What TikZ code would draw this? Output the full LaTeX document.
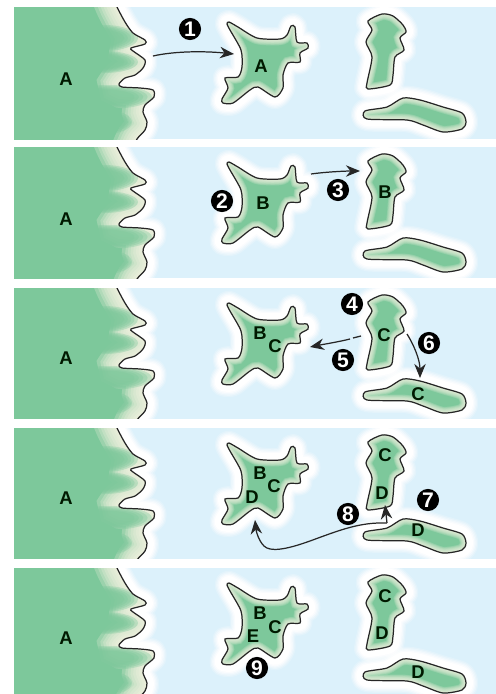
\documentclass[tikz,border=0pt]{standalone}
\usepackage{fontspec}
\setmainfont{Liberation Sans}
\usetikzlibrary{arrows.meta}
\definecolor{sea}{HTML}{DCF1FB}
\definecolor{land}{HTML}{7DC89B}
\definecolor{cream}{HTML}{F6F3E2}
\newcommand\coastline{plot[smooth,tension=.45] coordinates{(112,-5)(117,7)(125,22)(133,33)(145,40)(145,44)(131,48)(133,51)(145,60)(143,68)(135,75)(125,78)(119,84)(122,87)(140,88)(153,90)(154,97)(145,105)(143,112)(147,122)(145,130)(137,139)(132,150)}}
\newcommand\bigisle{plot[smooth cycle,tension=.45] coordinates{(229,22)(238,27)(257,38)(280,39)(287,35)(291,26)(295,27)(297,42)(307,43)(308,48)(300,53)(300,62)(288,63)(283,75)(283,88)(275,97)(258,87)(250,90)(233,103)(223,103)(222,99)(228,88)(225,78)(238,77)(242,67)(241,50)(230,30)(227,24)}}
\newcommand\tallisle{plot[smooth cycle,tension=.45] coordinates{(368,21)(382,14)(393,16)(403,25)(406,32)(400,38)(404,50)(395,57)(393,75)(390,85)(368,89)(367,83)(372,57)(366,42)(372,30)}}
\newcommand\longisle{plot[smooth cycle,tension=.45] coordinates{(365,111)(387,107)(403,98)(420,100)(443,107)(462,113)(466,122)(462,129)(443,132)(423,125)(407,120)(367,119)}}
\newcommand\glow[1]{%
  \foreach \w/\o in {14/.2,12.5/.3,11/.4,9.5/.6,8/1}{%
    \draw[white,opacity=\o,line width=\w pt,line join=round] #1;}}
\newcommand\isle[1]{%
  \fill[land] #1;
  \begin{scope}
    \clip #1;
    \foreach \w in {7,6,5,4,3,2}{%
      \draw[cream,opacity=.2,line width=\w pt] #1;}
  \end{scope}
  \draw[black!85,line width=.7pt] #1;}
\newcommand\panel[2]{%
\begin{scope}[shift={(0,#1)}]
  \begin{scope}
    \clip (14,7) rectangle (496,#2);
    \fill[sea] (14,7) rectangle (496,#2);
    \glow{\coastline}\glow{\bigisle}\glow{\tallisle}\glow{\longisle}
    \fill[land] \coastline -- (14,150) -- (14,-5) -- cycle;
    \begin{scope}
      \clip \coastline -- (14,150) -- (14,-5) -- cycle;
      \foreach \w in {24,20,17,14,11,8,5,3}{%
        \draw[cream,opacity=.25,line width=\w pt] \coastline;}
      \foreach \s in {1,.9,.8,.7,.6}{%
        \fill[land,opacity=.35] (104,38) ellipse ({34*\s} and {13*\s});
        \fill[land,opacity=.35] (104,62) ellipse ({34*\s} and {11*\s});
        \fill[land,opacity=.35] (108,97) ellipse ({44*\s} and {12*\s});
        \fill[land,opacity=.35] (100,122) ellipse ({32*\s} and {13*\s});}
    \end{scope}
    \draw[black!85,line width=.7pt] \coastline;
    \isle{\bigisle}\isle{\tallisle}\isle{\longisle}
  \end{scope}
\end{scope}}
\tikzset{
  lbl/.style={font=\bfseries\fontsize{10.5}{11}\selectfont,text=black!90!green,inner sep=0pt},
  num/.style={circle,fill=black,text=white,font=\bfseries\fontsize{12}{12}\selectfont,minimum size=12.6pt,inner sep=0pt},
  mv/.style={-{Stealth[length=8pt,width=6.5pt]},line width=.7pt,black!85},
  mvdash/.style={line width=.7pt,black!85}
}
\begin{document}
\begin{tikzpicture}[x=0.02cm,y=-0.02cm]
\useasboundingbox (0,0) rectangle (496,694);
\fill[white] (0,0) rectangle (496,694);
\panel{0}{139}
\panel{140}{138}
\panel{281}{137.5}
\panel{421}{137.5}
\panel{561}{134}
% panel 1
\node[lbl] (a1) at (66,79) {A};
\node[lbl] (a1b) at (261,66) {A};
\node[num] (n1) at (190,29) {1};
\coordinate (s1) at (153,56);
\coordinate (e1) at (234,54);
\draw[mv] (s1) .. controls (175,51) and (205,51) .. (e1);
% panel 2
\node[lbl] (a2) at (66,219) {A};
\node[lbl] (b2) at (263,203) {B};
\node[lbl] (b2b) at (385,192) {B};
\node[num] (n2) at (222,201) {2};
\node[num] (n3) at (338,190) {3};
\coordinate (s3) at (311,174);
\coordinate (e3) at (360,171);
\draw[mv] (s3) .. controls (325,172) and (345,171) .. (e3);
% panel 3
\node[lbl] (a3) at (66,358) {A};
\node[lbl] (b3) at (260,333) {B};
\node[lbl] (c3) at (275,346) {C};
\node[lbl] (c3b) at (384,335) {C};
\node[lbl] (c3c) at (418,394) {C};
\node[num] (n4) at (352,304) {4};
\node[num] (n5) at (343,360) {5};
\node[num] (n6) at (429,343) {6};
\coordinate (s5) at (361,336);
\coordinate (t5) at (353,338);
\coordinate (u5) at (350,339);
\coordinate (e5) at (310,347);
\coordinate (s6) at (407,334);
\coordinate (e6) at (420,378);
\draw[mvdash] (s5) -- (t5);
\draw[mv] (u5) .. controls (338,342) and (325,344) .. (e5);
\draw[mv] (s6) .. controls (414,345) and (420,360) .. (e6);
% panel 4
\node[lbl] (a4) at (66,498) {A};
\node[lbl] (b4) at (260,473) {B};
\node[lbl] (c4) at (274,486) {C};
\node[lbl] (d4) at (252,497) {D};
\node[lbl] (c4b) at (385,455) {C};
\node[lbl] (d4b) at (382,493) {D};
\node[lbl] (d4c) at (418,530) {D};
\node[num] (n7) at (428,500) {7};
\node[num] (n8) at (348,514) {8};
\coordinate (s7) at (387,523);
\coordinate (e7) at (385,505);
\coordinate (e8) at (255,520);
\draw[mv] (s7) -- (e7);
\draw[mv] (s7) .. controls (360,522) and (340,530) .. (310,541)
   .. controls (285,550) and (270,552) .. (264,546)
   .. controls (258,540) and (256,530) .. (e8);
% panel 5
\node[lbl] (a5) at (66,638) {A};
\node[lbl] (b5) at (260,613) {B};
\node[lbl] (c5) at (275,627) {C};
\node[lbl] (e5l) at (253,636) {E};
\node[lbl] (c5b) at (385,596) {C};
\node[lbl] (d5b) at (382,633) {D};
\node[lbl] (d5c) at (418,672) {D};
\node[num] (n9) at (257,668) {9};
\end{tikzpicture}
\end{document}
